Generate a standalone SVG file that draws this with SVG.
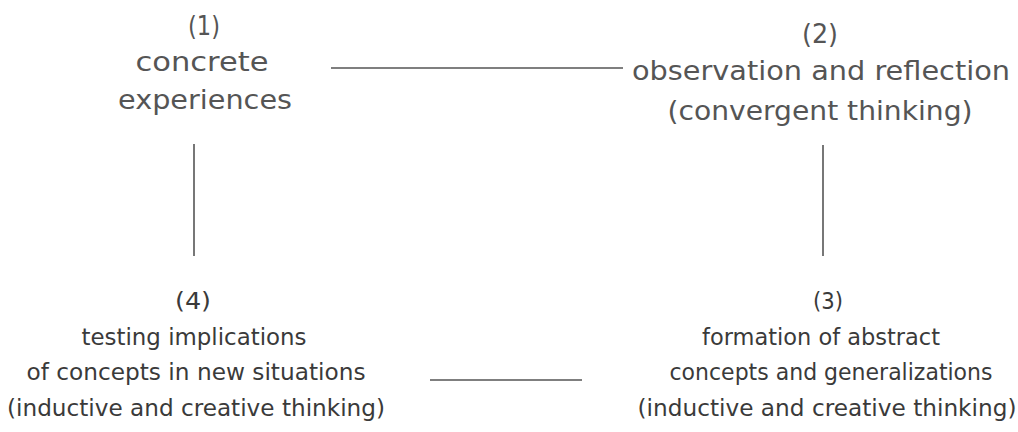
<svg xmlns="http://www.w3.org/2000/svg" width="1018" height="432" viewBox="0 0 1018 432">
<style>
.top{font-family:"DejaVu Sans","Liberation Sans",sans-serif;font-size:26px;fill:#555;text-anchor:middle}
.bot{font-family:"DejaVu Sans","Liberation Sans",sans-serif;font-size:22.5px;fill:#3a3a3a;text-anchor:middle}
.ln{stroke:#555;stroke-width:1.6;fill:none}
</style>
<rect width="1018" height="432" fill="#fff"/>
<g id="connectors">
<line class="ln" x1="331" y1="68" x2="623" y2="68"/>
<line class="ln" x1="194" y1="144" x2="194" y2="256"/>
<line class="ln" x1="823" y1="145" x2="823" y2="256"/>
<line class="ln" x1="430" y1="380" x2="582" y2="380"/>
</g>
<g id="node1">
<text class="top" x="204" y="35" textLength="32" lengthAdjust="spacingAndGlyphs">(1)</text>
<text class="top" x="202" y="71" textLength="133" lengthAdjust="spacingAndGlyphs">concrete</text>
<text class="top" x="205" y="109" textLength="174" lengthAdjust="spacingAndGlyphs">experiences</text>
</g>
<g id="node2">
<text class="top" x="820" y="43" textLength="36" lengthAdjust="spacingAndGlyphs">(2)</text>
<text class="top" x="821" y="80" textLength="378" lengthAdjust="spacingAndGlyphs">observation and reflection</text>
<text class="top" x="820" y="120" textLength="305" lengthAdjust="spacingAndGlyphs">(convergent thinking)</text>
</g>
<g id="node3">
<text class="bot" x="828" y="309" textLength="30" lengthAdjust="spacingAndGlyphs">(3)</text>
<text class="bot" x="821" y="345" textLength="238" lengthAdjust="spacingAndGlyphs">formation of abstract</text>
<text class="bot" x="831" y="380" textLength="323" lengthAdjust="spacingAndGlyphs">concepts and generalizations</text>
<text class="bot" x="827" y="416" textLength="379" lengthAdjust="spacingAndGlyphs">(inductive and creative thinking)</text>
</g>
<g id="node4">
<text class="bot" x="193" y="309" textLength="36" lengthAdjust="spacingAndGlyphs">(4)</text>
<text class="bot" x="194" y="345" textLength="225" lengthAdjust="spacingAndGlyphs">testing implications</text>
<text class="bot" x="196" y="380" textLength="339" lengthAdjust="spacingAndGlyphs">of concepts in new situations</text>
<text class="bot" x="196" y="416" textLength="378" lengthAdjust="spacingAndGlyphs">(inductive and creative thinking)</text>
</g>
</svg>
